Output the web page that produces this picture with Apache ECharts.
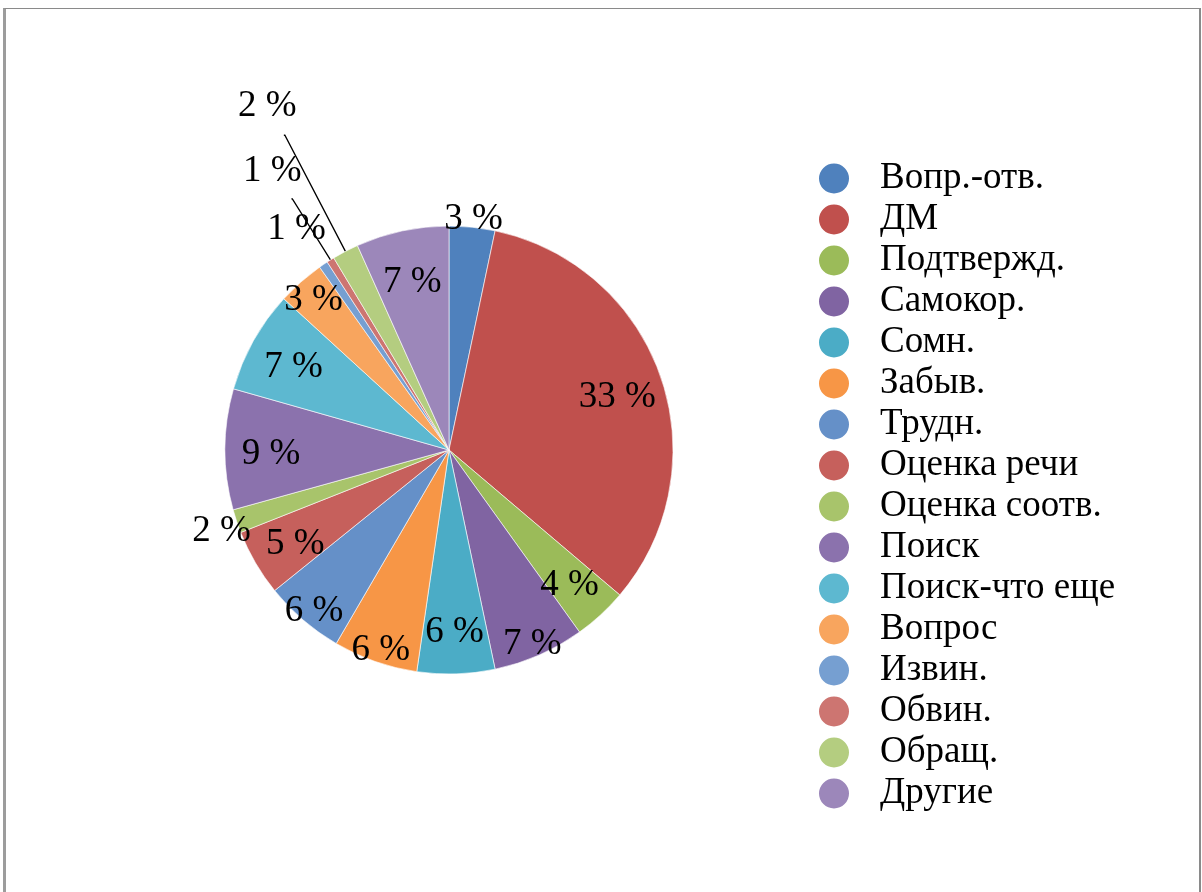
<!DOCTYPE html>
<html>
<head>
<meta charset="utf-8">
<script src="https://cdn.jsdelivr.net/npm/echarts@6/dist/echarts.min.js"></script>
<style>
html,body{margin:0;padding:0;background:#fff;overflow:hidden;width:1202px;height:892px;}
#frame{position:absolute;left:3px;top:8px;width:1198px;height:900px;box-sizing:border-box;
  border-top:1.5px solid #8a8a8a;border-right:2px solid #8a8a8a;border-left:3px solid #9c9c9c;}
#chart{position:absolute;left:0;top:0;width:1202px;height:892px;}
</style>
</head>
<body>
<div id="frame"></div>
<div id="chart"></div>
<script>
// ---- data ----
const categories = ['Вопр.-отв.', 'ДМ', 'Подтвержд.', 'Самокор.', 'Сомн.', 'Забыв.', 'Трудн.',
  'Оценка речи', 'Оценка соотв.', 'Поиск', 'Поиск-что еще', 'Вопрос', 'Извин.', 'Обвин.', 'Обращ.', 'Другие'];
const shares = [3.3, 32.9, 3.9, 6.6, 5.6, 6.1, 5.8, 4.8, 1.7, 8.7, 7.4, 3.4, 0.65, 0.55, 1.9, 6.7];

// ---- styles ----
const colors = ['#4F81BD', '#C0504D', '#9BBB59', '#8064A2', '#4BACC6', '#F79646', '#6590C8',
  '#C6605C', '#A8C46B', '#8B72AD', '#5DB8D0', '#F8A55E', '#769FD1', '#CD7571', '#B4CD80', '#9C87BA'];
// distance of each percentage label from the pie centre
const labelRadius = [236, 178, 178, 207, 178, 207, 207, 178, 240, 178, 178, 205, 272, 334, 393, 176];
// leader line length (0 = none)
const leaderLen = [0, 0, 0, 0, 0, 0, 0, 0, 0, 0, 0, 0, 0, 72, 131, 0];

const FONT = 'Liberation Serif, Times New Roman, serif';
const CENTER = [449, 450];
const R = 224;

const chart = echarts.init(document.getElementById('chart'), null, {renderer: 'canvas'});

const mainPie = {
  type: 'pie',
  center: CENTER,
  radius: R,
  startAngle: 90,
  clockwise: true,
  avoidLabelOverlap: false,
  emphasis: {disabled: true},
  itemStyle: {borderColor: '#ffffff', borderWidth: 0.6},
  label: {show: false},
  labelLine: {show: false},
  data: categories.map((n, i) => {
    const item = {name: n, value: shares[i], itemStyle: {color: colors[i]}};
    if (leaderLen[i] > 0) {
      item.label = {show: true, position: 'outside', formatter: ' ', fontSize: 10};
      item.labelLine = {show: true, length: leaderLen[i], length2: 1, smooth: false,
        lineStyle: {color: '#000', width: 1.3}};
    }
    return item;
  })
};

const radii = [...new Set(labelRadius)];
const labelSeries = radii.map(r => ({
  type: 'pie',
  center: CENTER,
  radius: [r - 13, r + 7],
  startAngle: 90,
  clockwise: true,
  silent: true,
  avoidLabelOverlap: false,
  emphasis: {disabled: true},
  labelLine: {show: false},
  label: {
    position: 'inside',
    fontFamily: FONT,
    fontSize: 37,
    color: '#000',
    formatter: p => '{v|' + Math.round(p.percent) + ' %}',
    rich: {
      v: {fontFamily: FONT, fontSize: 37, color: '#000', padding: [9, 0, 0, 0]}
    }
  },
  data: categories.map((n, i) => ({
    name: n,
    value: shares[i],
    itemStyle: {color: 'rgba(0,0,0,0)', borderWidth: 0},
    label: {show: labelRadius[i] === r}
  }))
}));

chart.setOption({
  animation: false,
  backgroundColor: 'transparent',
  legend: {
    orient: 'vertical',
    left: 817,
    top: 158,
    padding: 0,
    icon: 'circle',
    itemWidth: 32,
    itemHeight: 32,
    itemGap: 0,
    data: categories,
    textStyle: {
      fontFamily: FONT,
      fontSize: 37,
      color: '#000',
      lineHeight: 41,
      padding: [0, 0, 0, 25]
    }
  },
  series: [mainPie].concat(labelSeries)
});
</script>
</body>
</html>
